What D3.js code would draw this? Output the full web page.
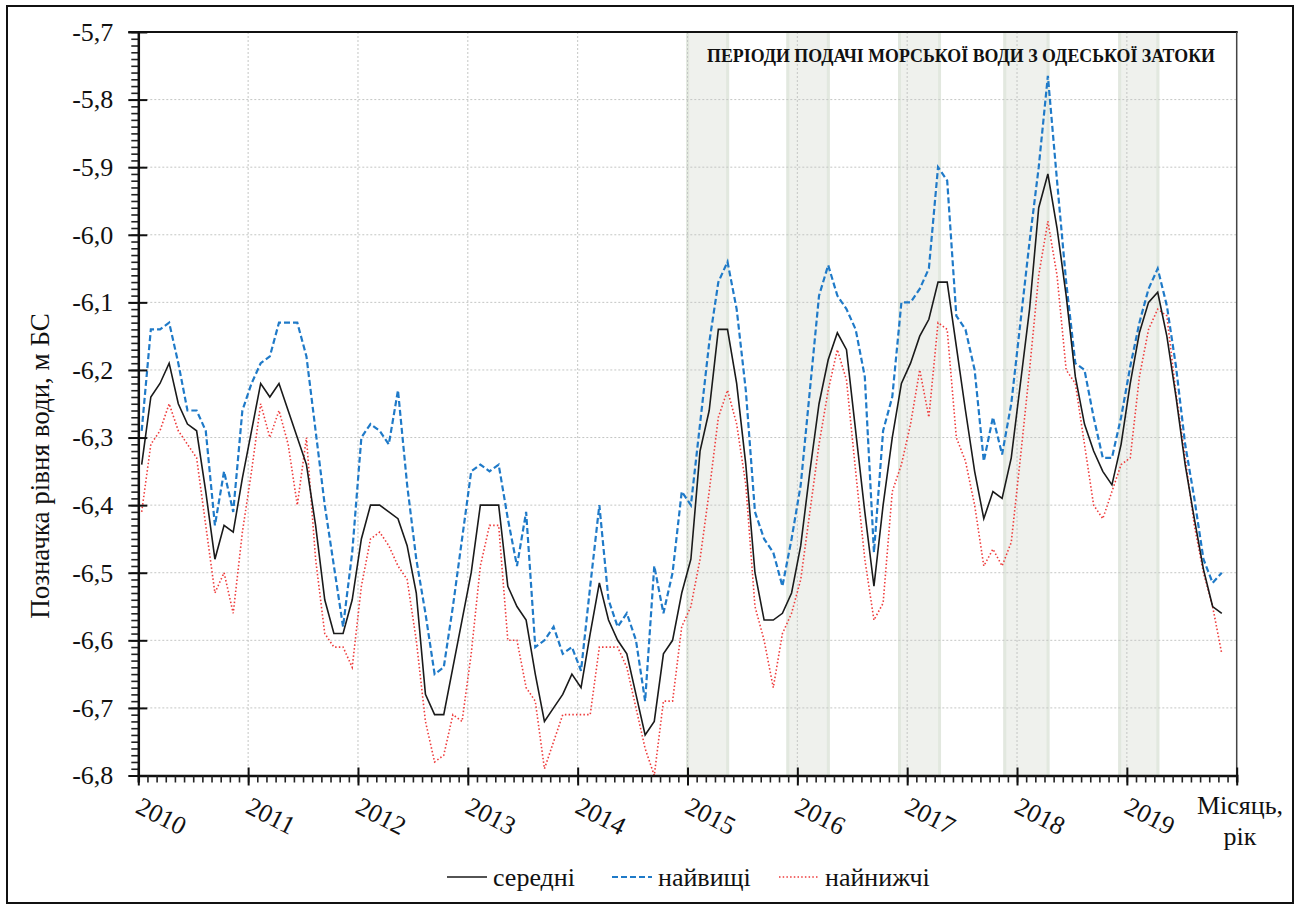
<!DOCTYPE html>
<html><head><meta charset="utf-8">
<script src="https://cdn.jsdelivr.net/npm/d3@7/dist/d3.min.js"></script>
<style>
body{margin:0;background:#fff;}
svg{display:block;}
svg text{font-family:"Liberation Serif","Times New Roman",serif !important;fill:#111;}
</style></head><body>
<svg id="c" width="1301" height="910"></svg>
<script>
// ---------- data ----------
const years = ["2010","2011","2012","2013","2014","2015","2016","2017","2018","2019"];
const yTicks = [-5.7,-5.8,-5.9,-6.0,-6.1,-6.2,-6.3,-6.4,-6.5,-6.6,-6.7,-6.8];
// monthly values, Jan 2010 .. Nov 2019
const avgLevel = [
 -6.34,-6.24,-6.22,-6.19,-6.25,-6.28,-6.29,-6.38,-6.48,-6.43,-6.44,-6.36,
 -6.29,-6.22,-6.24,-6.22,-6.26,-6.30,-6.34,-6.43,-6.54,-6.59,-6.59,-6.54,
 -6.45,-6.40,-6.40,-6.41,-6.42,-6.46,-6.53,-6.68,-6.71,-6.71,-6.64,-6.57,
 -6.50,-6.40,-6.40,-6.40,-6.52,-6.55,-6.57,-6.65,-6.72,-6.70,-6.68,-6.65,
 -6.67,-6.59,-6.515,-6.57,-6.60,-6.62,-6.68,-6.74,-6.72,-6.62,-6.60,-6.53,
 -6.48,-6.32,-6.26,-6.14,-6.14,-6.22,-6.34,-6.50,-6.57,-6.57,-6.56,-6.53,
 -6.46,-6.35,-6.25,-6.185,-6.145,-6.17,-6.29,-6.41,-6.52,-6.40,-6.30,-6.22,
 -6.19,-6.15,-6.125,-6.07,-6.07,-6.165,-6.26,-6.35,-6.42,-6.38,-6.39,-6.33,
 -6.22,-6.11,-5.96,-5.91,-5.99,-6.09,-6.21,-6.28,-6.32,-6.35,-6.37,-6.31,
 -6.22,-6.145,-6.10,-6.085,-6.15,-6.24,-6.34,-6.42,-6.495,-6.55,-6.56
];
const maxLevel = [
 -6.29,-6.14,-6.14,-6.13,-6.19,-6.26,-6.26,-6.29,-6.43,-6.35,-6.41,-6.26,
 -6.22,-6.19,-6.18,-6.13,-6.13,-6.13,-6.18,-6.29,-6.40,-6.49,-6.58,-6.47,
 -6.30,-6.28,-6.29,-6.31,-6.23,-6.37,-6.48,-6.56,-6.65,-6.64,-6.55,-6.45,
 -6.35,-6.34,-6.35,-6.34,-6.42,-6.49,-6.41,-6.61,-6.60,-6.58,-6.62,-6.61,
 -6.645,-6.52,-6.40,-6.54,-6.58,-6.56,-6.60,-6.69,-6.49,-6.56,-6.50,-6.38,
 -6.40,-6.28,-6.16,-6.07,-6.04,-6.11,-6.23,-6.41,-6.45,-6.47,-6.52,-6.45,
 -6.37,-6.23,-6.09,-6.045,-6.09,-6.11,-6.14,-6.21,-6.47,-6.29,-6.24,-6.10,
 -6.10,-6.08,-6.05,-5.90,-5.92,-6.12,-6.14,-6.20,-6.335,-6.27,-6.325,-6.25,
 -6.13,-6.01,-5.90,-5.765,-5.92,-6.07,-6.19,-6.20,-6.27,-6.33,-6.33,-6.27,
 -6.195,-6.13,-6.08,-6.05,-6.105,-6.195,-6.31,-6.39,-6.48,-6.515,-6.50
];
const minLevel = [
 -6.41,-6.31,-6.29,-6.25,-6.29,-6.31,-6.33,-6.43,-6.53,-6.50,-6.56,-6.44,
 -6.35,-6.25,-6.30,-6.26,-6.31,-6.40,-6.30,-6.48,-6.59,-6.61,-6.61,-6.64,
 -6.52,-6.45,-6.44,-6.46,-6.49,-6.51,-6.60,-6.72,-6.78,-6.77,-6.71,-6.72,
 -6.62,-6.49,-6.43,-6.43,-6.60,-6.60,-6.67,-6.69,-6.79,-6.75,-6.71,-6.71,
 -6.71,-6.71,-6.61,-6.61,-6.61,-6.64,-6.70,-6.76,-6.80,-6.69,-6.69,-6.58,
 -6.55,-6.48,-6.38,-6.27,-6.23,-6.28,-6.37,-6.55,-6.60,-6.67,-6.59,-6.56,
 -6.51,-6.41,-6.31,-6.23,-6.17,-6.215,-6.35,-6.48,-6.57,-6.545,-6.38,-6.34,
 -6.28,-6.20,-6.27,-6.13,-6.14,-6.30,-6.335,-6.40,-6.49,-6.465,-6.49,-6.455,
 -6.33,-6.20,-6.06,-5.98,-6.06,-6.20,-6.22,-6.31,-6.40,-6.42,-6.38,-6.34,
 -6.33,-6.21,-6.14,-6.11,-6.12,-6.235,-6.33,-6.43,-6.50,-6.55,-6.62
];
// periods of sea-water supply, in months counted from Jan 2010
const bandStart = [59.85, 70.8, 83.0, 94.5, 107.05];
const bandEnd   = [64.55, 75.55, 87.7, 99.55, 111.55];
const seriesNames = ["середні","найвищі","найнижчі"];
const titleText = "ПЕРІОДИ ПОДАЧІ МОРСЬКОЇ ВОДИ З ОДЕСЬКОЇ ЗАТОКИ";
const yTitle = "Позначка рівня води, м БС";
const xTitle = ["Місяць,","рік"];

// ---------- layout ----------
const FONT = '"Liberation Serif","Times New Roman",serif';
const svg = d3.select("#c");
const X0 = 138.3, X1 = 1236.7, Y0 = 32, Y1 = 775.5;
const x = d3.scaleLinear().domain([0, 120]).range([X0, X1]);
const y = d3.scaleLinear().domain([-6.8, -5.7]).range([Y1, Y0]);
const ptOffset = 0.37;
const fmt = v => v.toFixed(1).replace(".", ",");

// outer frame
svg.append("rect").attr("x",7).attr("y",6).attr("width",1286).attr("height",897)
  .attr("fill","none").attr("stroke","#111").attr("stroke-width",2);

// shaded periods
const bands = svg.append("g");
bandStart.forEach((s,i) => {
  const xa = x(s), xb = x(bandEnd[i]);
  bands.append("rect").attr("x",xa).attr("y",Y0).attr("width",xb-xa).attr("height",Y1-Y0)
    .attr("fill","#eff1ed");
  [xa+1.5, xb-1.5].forEach(xx => bands.append("line").attr("x1",xx).attr("x2",xx)
    .attr("y1",Y0).attr("y2",Y1).attr("stroke","#e2e8df").attr("stroke-width",3));
});

// grid
const grid = svg.append("g").attr("stroke","#c4c6c4").attr("stroke-width",1).attr("stroke-dasharray","2,2");
yTicks.filter(v => v > -6.8 && v < -5.7).forEach(v => {
  grid.append("line").attr("x1",X0).attr("x2",X1).attr("y1",y(v)).attr("y2",y(v));
});
years.forEach((yr,i) => { if (i>0) {
  grid.append("line").attr("x1",x(i*12)).attr("x2",x(i*12)).attr("y1",Y0).attr("y2",Y1);
}});

// frame top / right
svg.append("line").attr("x1",X0-10).attr("x2",X1+1).attr("y1",Y0).attr("y2",Y0).attr("stroke","#111").attr("stroke-width",2);
svg.append("line").attr("x1",X1).attr("x2",X1).attr("y1",Y0).attr("y2",Y1).attr("stroke","#444").attr("stroke-width",1.5);

// series lines
const line = d3.line().x((d,i) => x(i + ptOffset)).y(d => y(d));
svg.append("path").datum(minLevel).attr("d",line).attr("fill","none")
  .attr("stroke","#ee3b3b").attr("stroke-width",1.6).attr("stroke-dasharray","1.5,2.2");
svg.append("path").datum(maxLevel).attr("d",line).attr("fill","none")
  .attr("stroke","#1f7ac8").attr("stroke-width",2.2).attr("stroke-dasharray","6,3");
svg.append("path").datum(avgLevel).attr("d",line).attr("fill","none")
  .attr("stroke","#1a1a1a").attr("stroke-width",1.6);

// y axis
const minorY = d3.range(0,111).map(k => -5.7 - k*0.01);
const yMinor = svg.append("g").attr("transform",`translate(${X0},0)`)
  .call(d3.axisLeft(y).tickValues(minorY).tickSize(7).tickFormat(""));
yMinor.select(".domain").remove();
yMinor.selectAll("line").attr("stroke","#222").attr("stroke-width",1.6);
const yMajor = svg.append("g").attr("transform",`translate(${X0},0)`)
  .call(d3.axisLeft(y).tickValues(yTicks).tickSizeInner(10).tickSizeOuter(0).tickPadding(15).tickFormat(fmt));
yMajor.attr("font-family",FONT);
yMajor.select(".domain").attr("stroke","#111").attr("stroke-width",2.5);
yMajor.selectAll("line").attr("stroke","#111").attr("stroke-width",2);
yMajor.selectAll("text").attr("font-size",26).attr("fill","#111").attr("font-family",FONT);
const yIn = svg.append("g").attr("transform",`translate(${X0},0)`)
  .call(d3.axisRight(y).tickValues(yTicks).tickSize(9).tickFormat(""));
yIn.select(".domain").remove();
yIn.selectAll("line").attr("stroke","#111").attr("stroke-width",2);

// x axis
const xMinor = svg.append("g").attr("transform",`translate(0,${Y1})`)
  .call(d3.axisBottom(x).tickValues(d3.range(0,121)).tickSize(7).tickFormat(""));
xMinor.select(".domain").attr("stroke","#111").attr("stroke-width",2.5);
xMinor.selectAll("line").attr("stroke","#222").attr("stroke-width",1.6);
const xMajor = svg.append("g").attr("transform",`translate(0,${Y1})`)
  .call(d3.axisBottom(x).tickValues(d3.range(0,121,12)).tickSizeInner(10).tickSizeOuter(0).tickFormat(""));
xMajor.select(".domain").remove();
xMajor.selectAll("line").attr("stroke","#111").attr("stroke-width",2).attr("y1",-8);

// year labels (rotated)
years.forEach((yr,i) => {
  const bx = x(i*12) - 4, by = 812;
  svg.append("text").attr("x",bx).attr("y",by).attr("font-size",26).attr("font-family",FONT)
    .attr("transform",`rotate(27,${bx},${by})`).text(yr);
});

// axis titles
svg.append("text").attr("x",1240).attr("y",814).attr("text-anchor","middle").attr("font-size",26).attr("font-family",FONT).text(xTitle[0]);
svg.append("text").attr("x",1240).attr("y",845).attr("text-anchor","middle").attr("font-size",26).attr("font-family",FONT).text(xTitle[1]);
svg.append("text").attr("transform","translate(49,466) rotate(-90)").attr("text-anchor","middle")
  .attr("font-size",27).attr("font-family",FONT).text(yTitle);

// in-plot title
svg.append("text").attr("x",961).attr("y",62).attr("text-anchor","middle")
  .attr("font-size",18).attr("font-weight","bold").attr("font-family",FONT).attr("textLength",508)
  .attr("lengthAdjust","spacingAndGlyphs").text(titleText);

// legend
const leg = svg.append("g");
const legItems = [
  {x:447, stroke:"#1a1a1a", dash:null, w:1.6},
  {x:612, stroke:"#1f7ac8", dash:"6,3", w:2.2},
  {x:779, stroke:"#ee3b3b", dash:"1.5,2.2", w:1.6}
];
legItems.forEach((it,i) => {
  const l = leg.append("line").attr("x1",it.x).attr("x2",it.x+40).attr("y1",877).attr("y2",877)
    .attr("stroke",it.stroke).attr("stroke-width",it.w);
  if (it.dash) l.attr("stroke-dasharray",it.dash);
  leg.append("text").attr("x",it.x+46).attr("y",886).attr("font-size",26).attr("font-family",FONT).text(seriesNames[i]);
});
</script>
</body></html>
